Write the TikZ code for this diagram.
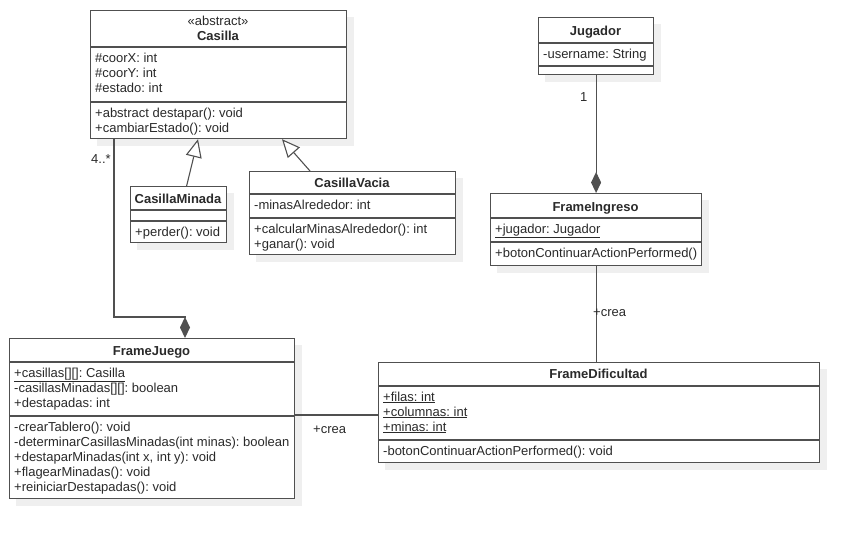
\documentclass[tikz,border=0pt]{standalone}
\usepackage{fontspec}
\setmainfont{Liberation Sans}
\frenchspacing
\usetikzlibrary{arrows.meta,backgrounds}
\definecolor{linec}{HTML}{505050}
\definecolor{textc}{HTML}{2A2A2A}
\definecolor{shadowc}{HTML}{EFEFEF}
\tikzset{
  umlclass/.style={draw=linec, line width=1.2pt, fill=white, anchor=north west, inner sep=0pt},
  shadowbox/.style={fill=shadowc, draw=none},
  txt/.style={anchor=base west, inner sep=0pt, text=textc, font=\fontsize{13}{15}\selectfont\frenchspacing},
  ctxt/.style={anchor=base, inner sep=0pt, text=textc, font=\fontsize{13}{15}\selectfont\frenchspacing},
  ttl/.style={anchor=base, inner sep=0pt, text=textc, font=\fontsize{13}{15}\selectfont\bfseries},
  divider/.style={draw=linec, line width=1.2pt},
  conn/.style={draw=linec, line width=1.1pt},
  comp/.style={conn, -{Diamond[length=21pt,width=10pt]}},
  gen/.style={conn, -{Triangle[open,length=18pt,width=16pt,fill=white]}},
}
\newcommand{\boxshadow}[1]{%
  \begin{pgfonlayer}{background}
    \fill[shadowbox] ([shift={(7pt,-7pt)}]#1.north west) rectangle ([shift={(7pt,-7pt)}]#1.south east);
  \end{pgfonlayer}}
\begin{document}
\begin{tikzpicture}[x=1pt,y=-1pt]
\useasboundingbox (0,0) rectangle (859,538);

% ---------- Casilla ----------
\node[umlclass, minimum width=256pt, minimum height=128pt] (casilla) at (90,10) {};
\boxshadow{casilla}
\draw[divider] (casilla.west |- 0,47) -- (casilla.east |- 0,47);
\draw[divider] (casilla.west |- 0,102) -- (casilla.east |- 0,102);
\node[ctxt] (casS) at (218,25) {«abstract»};
\node[ttl] (casT) at (218,40) {Casilla};
\node[txt] (casA1) at (95,62) {\#coorX: int};
\node[txt] (casA2) at (95,77) {\#coorY: int};
\node[txt] (casA3) at (95,92) {\#estado: int};
\node[txt] (casM1) at (95,117) {+abstract destapar(): void};
\node[txt] (casM2) at (95,132) {+cambiarEstado(): void};

% ---------- CasillaMinada ----------
\node[umlclass, minimum width=96pt, minimum height=56pt] (casillaminada) at (130,186) {};
\boxshadow{casillaminada}
\draw[divider] (casillaminada.west |- 0,210) -- (casillaminada.east |- 0,210);
\draw[divider] (casillaminada.west |- 0,221) -- (casillaminada.east |- 0,221);
\node[ttl] (cmT) at (178,203) {CasillaMinada};
\node[txt] (cmM1) at (135,236) {+perder(): void};

% ---------- CasillaVacia ----------
\node[umlclass, minimum width=206pt, minimum height=83pt] (casillavacia) at (249,171) {};
\boxshadow{casillavacia}
\draw[divider] (casillavacia.west |- 0,194) -- (casillavacia.east |- 0,194);
\draw[divider] (casillavacia.west |- 0,218) -- (casillavacia.east |- 0,218);
\node[ttl] (cvT) at (352,187) {CasillaVacia};
\node[txt] (cvA1) at (254,209) {-minasAlrededor: int};
\node[txt] (cvM1) at (254,233) {+calcularMinasAlrededor(): int};
\node[txt] (cvM2) at (254,248) {+ganar(): void};

% ---------- Jugador ----------
\node[umlclass, minimum width=115pt, minimum height=57pt] (jugador) at (538,17) {};
\boxshadow{jugador}
\draw[divider] (jugador.west |- 0,43) -- (jugador.east |- 0,43);
\draw[divider] (jugador.west |- 0,66) -- (jugador.east |- 0,66);
\node[ttl] (jT) at (595.5,35) {Jugador};
\node[txt] (jA1) at (543,58) {-username: String};

% ---------- FrameIngreso ----------
\node[umlclass, minimum width=211pt, minimum height=72pt] (frameingreso) at (490,193) {};
\boxshadow{frameingreso}
\draw[divider] (frameingreso.west |- 0,218) -- (frameingreso.east |- 0,218);
\draw[divider] (frameingreso.west |- 0,242) -- (frameingreso.east |- 0,242);
\node[ttl] (fiT) at (595.5,211) {FrameIngreso};
\node[txt] (fiA1) at (495,233) {\underline{+jugador: Jugador}};
\node[txt] (fiM1) at (495,257) {+botonContinuarActionPerformed()};

% ---------- FrameJuego ----------
\node[umlclass, minimum width=285pt, minimum height=160pt] (framejuego) at (9,338) {};
\boxshadow{framejuego}
\draw[divider] (framejuego.west |- 0,362) -- (framejuego.east |- 0,362);
\draw[divider] (framejuego.west |- 0,416) -- (framejuego.east |- 0,416);
\node[ttl] (fjT) at (151.5,355) {FrameJuego};
\node[txt] (fjA1) at (14,377) {\underline{+casillas[][]: Casilla}};
\node[txt] (fjA2) at (14,392) {-casillasMinadas[][]: boolean};
\node[txt] (fjA3) at (14,407) {+destapadas: int};
\node[txt] (fjM1) at (14,431) {-crearTablero(): void};
\node[txt] (fjM2) at (14,446) {-determinarCasillasMinadas(int minas): boolean};
\node[txt] (fjM3) at (14,461) {+destaparMinadas(int x, int y): void};
\node[txt] (fjM4) at (14,476) {+flagearMinadas(): void};
\node[txt] (fjM5) at (14,491) {+reiniciarDestapadas(): void};

% ---------- FrameDificultad ----------
\node[umlclass, minimum width=441pt, minimum height=100pt] (framedificultad) at (378,362) {};
\boxshadow{framedificultad}
\draw[divider] (framedificultad.west |- 0,386) -- (framedificultad.east |- 0,386);
\draw[divider] (framedificultad.west |- 0,440) -- (framedificultad.east |- 0,440);
\node[ttl] (fdT) at (598.5,378) {FrameDificultad};
\node[txt] (fdA1) at (383,401) {\underline{+filas: int}};
\node[txt] (fdA2) at (383,416) {\underline{+columnas: int}};
\node[txt] (fdA3) at (383,431) {\underline{+minas: int}};
\node[txt] (fdM1) at (383,455) {-botonContinuarActionPerformed(): void};

% ---------- Connectors ----------
\draw[comp] ([xshift=24pt]casilla.south west) |- ([xshift=176pt,yshift=21pt]framejuego.north west)
  -- ([xshift=176pt]framejuego.north west);
\node[txt] (lblmany) at (91,163) {4..*};

\draw[gen] ([xshift=8pt]casillaminada.north) -- ([xshift=108pt]casilla.south west);
\draw[gen] ([xshift=61pt]casillavacia.north west) -- ([xshift=192pt]casilla.south west);

\draw[comp] (jugador.south) -- (frameingreso.north);
\node[txt] (lblone) at (580,101) {1};

\draw[conn] (frameingreso.south) -- (frameingreso.south |- framedificultad.north);
\node[txt] (lblcrea1) at (593,316) {+crea};

\coordinate (fdw) at ([yshift=-53pt]framedificultad.north west);
\draw[conn] (fdw) -- (fdw -| framejuego.east);
\node[txt] (lblcrea2) at (313,433) {+crea};
\end{tikzpicture}
\end{document}
